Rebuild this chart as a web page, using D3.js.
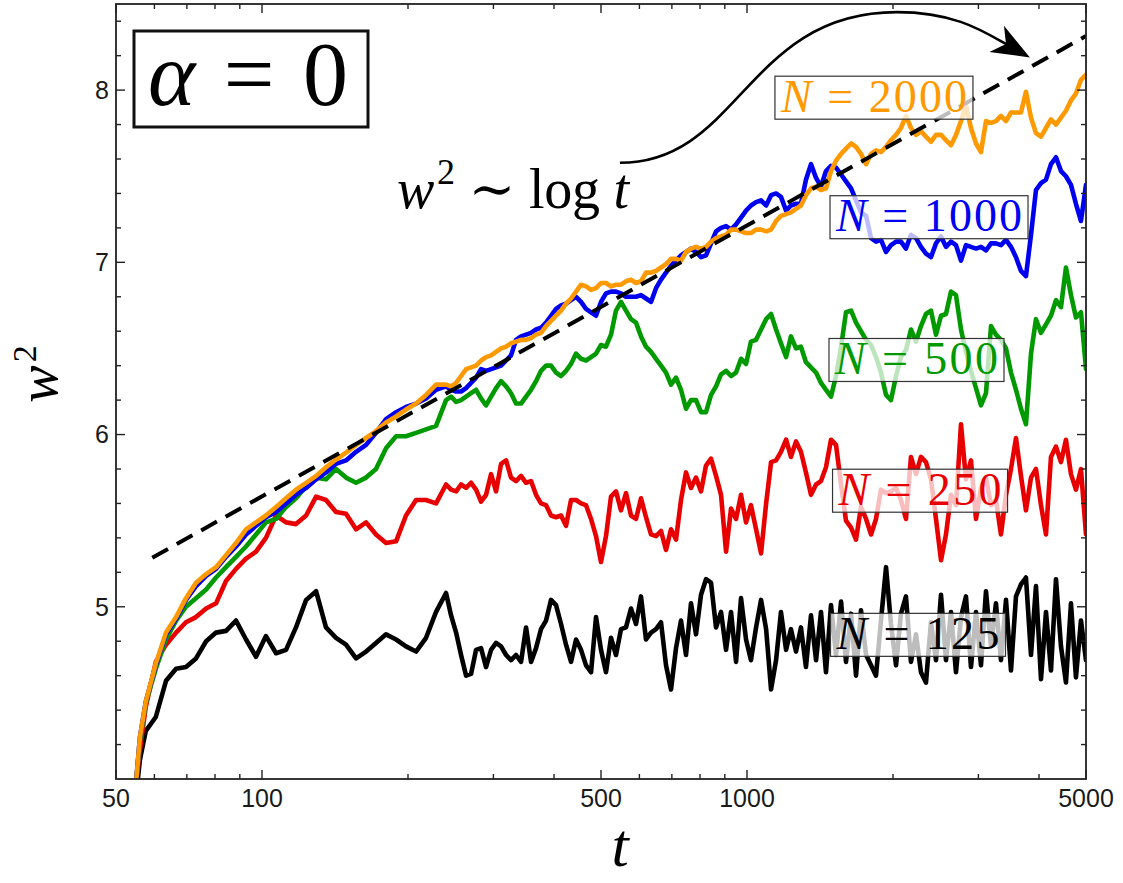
<!DOCTYPE html>
<html>
<head>
<meta charset="utf-8">
<script src="https://cdn.jsdelivr.net/npm/d3@7"></script>
<style>
  body { margin: 0; background: #fff; }
  svg { display: block; }
</style>
</head>
<body>
<script>
// sampling times (log spaced)
const tValues = [
  55.0, 56.0, 57.6, 60.4, 63.4, 66.5, 69.7, 73.1, 76.7, 80.4, 84.3, 88.4, 92.7, 97.2, 101.9, 106.9, 112.1,
  117.5, 123.3, 129.3, 135.5, 142.1, 149.0, 156.3, 163.9, 171.8, 180.2, 189.0, 198.1, 207.8, 217.9, 228.5, 239.6,
  245.4, 251.3, 257.3, 263.5, 269.8, 276.3, 282.9, 289.7, 296.7, 303.8,
  311.1, 318.6, 326.2, 334.0, 342.1, 350.3, 358.7, 367.3, 376.1, 385.2,
  394.4, 403.9, 413.6, 423.5, 433.7, 444.1, 454.8, 465.7, 476.9, 488.3,
  500.0, 512.0, 524.3, 536.9, 549.8, 563.0, 576.5, 590.4, 604.6, 619.1,
  634.0, 649.2, 664.8, 680.8, 697.1, 713.9, 731.0, 748.6, 766.6, 785.0,
  803.9, 823.2, 843.0, 863.3, 884.0, 905.3, 927.0, 949.3, 972.1, 995.5,
  1019, 1044, 1069, 1095, 1121, 1148, 1175, 1204, 1232, 1262,
  1292, 1323, 1355, 1388, 1421, 1455, 1490, 1526, 1563, 1600,
  1639, 1678, 1718, 1760, 1802, 1845, 1889, 1935, 1981, 2029,
  2077, 2127, 2178, 2231, 2284, 2339, 2395, 2453, 2512, 2572,
  2634, 2697, 2762, 2828, 2896, 2966, 3037, 3110, 3185, 3261,
  3339, 3420, 3502, 3586, 3672, 3760, 3851, 3943, 4038, 4135,
  4234, 4336, 4440, 4546, 4656, 4767, 4882, 5000
];

const w2N125 = [
  3.90, 4.11, 4.28, 4.36, 4.57, 4.64, 4.65, 4.70, 4.80, 4.85, 4.86, 4.92, 4.81, 4.71, 4.83, 4.73, 4.75,
  4.88, 5.04, 5.09, 4.88, 4.82, 4.78, 4.70, 4.74, 4.79, 4.84, 4.81, 4.77, 4.74, 4.82, 4.97, 5.08,
  4.95, 4.85, 4.72, 4.60, 4.61, 4.75, 4.76, 4.65, 4.75, 4.79,
  4.77, 4.72, 4.69, 4.72, 4.68, 4.88, 4.68, 4.76, 4.87, 4.92,
  5.04, 5.01, 4.90, 4.78, 4.68, 4.81, 4.75, 4.66, 4.62, 4.94,
  4.75, 4.62, 4.82, 4.72, 4.87, 4.88, 4.99, 4.90, 5.06, 4.81,
  4.85, 4.87, 4.91, 4.66, 4.52, 4.76, 4.92, 4.72, 5.02, 4.84,
  5.07, 5.16, 5.14, 4.88, 4.97, 4.75, 4.97, 4.68, 5.05, 4.81,
  4.69, 4.88, 5.04, 4.87, 4.52, 4.69, 4.97, 4.75, 4.87, 4.74,
  4.88, 4.65, 4.95, 4.69, 4.97, 4.62, 5.01, 4.72, 5.03, 4.68,
  4.96, 4.60, 4.98, 4.72, 4.66, 4.60, 4.92, 5.23, 4.90, 4.66,
  4.96, 5.06, 4.68, 4.84, 4.62, 4.56, 4.91, 4.69, 5.07, 4.69,
  4.97, 4.62, 4.94, 5.06, 4.65, 4.97, 4.66, 5.09, 4.77, 5.02,
  4.69, 5.04, 4.63, 5.06, 5.13, 5.17, 4.72, 5.12, 4.58, 4.97,
  4.63, 5.16, 4.77, 4.56, 5.02, 4.59, 4.92, 4.69
];

const w2N250 = [
  3.97, 4.17, 4.42, 4.68, 4.78, 4.85, 4.91, 4.94, 4.99, 5.02, 5.15, 5.22, 5.28, 5.32, 5.40, 5.53, 5.49,
  5.48, 5.53, 5.64, 5.62, 5.55, 5.54, 5.45, 5.49, 5.42, 5.37, 5.38, 5.53, 5.62, 5.62, 5.60, 5.71,
  5.68, 5.67, 5.71, 5.69, 5.72, 5.68, 5.61, 5.65, 5.77, 5.67,
  5.83, 5.85, 5.75, 5.73, 5.76, 5.72, 5.73, 5.65, 5.60, 5.59,
  5.53, 5.52, 5.53, 5.47, 5.62, 5.62, 5.60, 5.59, 5.51, 5.41,
  5.26, 5.41, 5.64, 5.67, 5.56, 5.66, 5.53, 5.51, 5.63, 5.52,
  5.42, 5.41, 5.44, 5.33, 5.45, 5.39, 5.62, 5.78, 5.69, 5.75,
  5.67, 5.82, 5.86, 5.76, 5.65, 5.32, 5.57, 5.51, 5.65, 5.49,
  5.59, 5.45, 5.31, 5.60, 5.84, 5.85, 5.90, 5.97, 5.87, 5.96,
  5.90, 5.78, 5.65, 5.71, 5.73, 5.81, 5.97, 5.94, 5.71, 5.50,
  5.46, 5.39, 5.58, 5.51, 5.42, 5.51, 5.68, 5.66, 5.67, 5.69,
  5.62, 5.51, 5.87, 5.77, 5.87, 5.84, 5.74, 5.51, 5.27, 5.42,
  5.65, 5.59, 6.06, 5.74, 5.85, 5.51, 5.69, 5.75, 5.59, 5.62,
  5.42, 5.65, 5.80, 5.98, 5.76, 5.56, 5.75, 5.80, 5.59, 5.42,
  5.87, 5.93, 5.84, 5.97, 5.77, 5.68, 5.80, 5.42
];

const w2N500 = [
  3.98, 4.22, 4.44, 4.64, 4.81, 4.92, 5.00, 5.05, 5.10, 5.17, 5.23, 5.29, 5.35, 5.42, 5.49, 5.51, 5.58,
  5.63, 5.70, 5.75, 5.74, 5.80, 5.75, 5.72, 5.75, 5.80, 5.92, 5.99, 5.99, 6.01, 6.03, 6.05, 6.20,
  6.22, 6.19, 6.20, 6.22, 6.24, 6.26, 6.21, 6.17, 6.22, 6.27,
  6.31, 6.28, 6.24, 6.18, 6.18, 6.22, 6.26, 6.31, 6.37, 6.40,
  6.40, 6.36, 6.34, 6.37, 6.41, 6.47, 6.44, 6.43, 6.45, 6.47,
  6.52, 6.51, 6.58, 6.72, 6.77, 6.72, 6.67, 6.65, 6.57, 6.51,
  6.48, 6.44, 6.40, 6.36, 6.29, 6.33, 6.26, 6.15, 6.20, 6.20,
  6.13, 6.13, 6.23, 6.28, 6.35, 6.37, 6.34, 6.36, 6.44, 6.41,
  6.54, 6.55, 6.61, 6.67, 6.70, 6.61, 6.53, 6.45, 6.57, 6.50,
  6.51, 6.42, 6.39, 6.36, 6.30, 6.26, 6.22, 6.34, 6.51, 6.71,
  6.72, 6.65, 6.60, 6.55, 6.52, 6.45, 6.36, 6.23, 6.20, 6.34,
  6.45, 6.49, 6.61, 6.54, 6.63, 6.70, 6.72, 6.58, 6.69, 6.70,
  6.83, 6.81, 6.61, 6.48, 6.37, 6.27, 6.17, 6.24, 6.63, 6.58,
  6.55, 6.50, 6.36, 6.26, 6.15, 6.06, 6.47, 6.67, 6.59, 6.64,
  6.69, 6.78, 6.74, 6.97, 6.81, 6.68, 6.71, 6.38
];

const w2N1000 = [
  3.98, 4.24, 4.45, 4.66, 4.84, 4.93, 5.04, 5.12, 5.18, 5.22, 5.29, 5.35, 5.42, 5.47, 5.52, 5.55, 5.60,
  5.65, 5.69, 5.74, 5.78, 5.83, 5.85, 5.90, 5.94, 6.01, 6.09, 6.13, 6.16, 6.18, 6.21, 6.26, 6.28,
  6.26, 6.25, 6.25, 6.27, 6.30, 6.33, 6.38, 6.37, 6.38, 6.39,
  6.40, 6.43, 6.46, 6.55, 6.57, 6.58, 6.59, 6.61, 6.62, 6.65,
  6.69, 6.73, 6.75, 6.76, 6.78, 6.80, 6.77, 6.73, 6.71, 6.69,
  6.77, 6.82, 6.83, 6.83, 6.82, 6.80, 6.80, 6.80, 6.81, 6.79,
  6.77, 6.85, 6.90, 6.94, 6.98, 7.01, 7.04, 7.06, 7.08, 7.06,
  7.03, 7.04, 7.11, 7.18, 7.20, 7.21, 7.19, 7.22, 7.26, 7.30,
  7.33, 7.35, 7.36, 7.33, 7.39, 7.40, 7.38, 7.30, 7.33, 7.34,
  7.34, 7.48, 7.57, 7.49, 7.44, 7.53, 7.56, 7.55, 7.51, 7.47,
  7.43, 7.36, 7.29, 7.27, 7.14, 7.12, 7.13, 7.06, 7.10, 7.12,
  7.12, 7.08, 7.16, 7.14, 7.09, 7.05, 7.03, 7.11, 7.15, 7.09,
  7.12, 7.10, 7.01, 7.10, 7.09, 7.08, 7.09, 7.07, 7.11, 7.11,
  7.10, 7.13, 7.09, 7.03, 6.95, 6.92, 7.16, 7.42, 7.46, 7.48,
  7.57, 7.61, 7.53, 7.50, 7.45, 7.34, 7.24, 7.45
];

const w2N2000 = [
  3.98, 4.24, 4.45, 4.67, 4.85, 4.94, 5.05, 5.14, 5.19, 5.23, 5.30, 5.37, 5.45, 5.49, 5.53, 5.58, 5.63,
  5.68, 5.72, 5.76, 5.81, 5.855, 5.895, 5.94, 5.98, 6.02, 6.07, 6.105, 6.145, 6.18, 6.23, 6.29, 6.29,
  6.28, 6.30, 6.34, 6.38, 6.39, 6.40, 6.43, 6.45, 6.46, 6.48,
  6.50, 6.51, 6.53, 6.54, 6.55, 6.55, 6.56, 6.58, 6.59, 6.63,
  6.66, 6.69, 6.72, 6.76, 6.79, 6.83, 6.87, 6.86, 6.84, 6.85,
  6.88, 6.88, 6.86, 6.87, 6.87, 6.89, 6.90, 6.88, 6.89, 6.94,
  6.94, 6.95, 6.97, 6.99, 7.02, 7.02, 7.01, 7.06, 7.08, 7.09,
  7.08, 7.09, 7.12, 7.14, 7.15, 7.16, 7.19, 7.19, 7.18, 7.17,
  7.17, 7.19, 7.19, 7.18, 7.19, 7.24, 7.27, 7.28, 7.29, 7.31,
  7.33, 7.39, 7.43, 7.44, 7.42, 7.43, 7.53, 7.59, 7.63, 7.66,
  7.69, 7.67, 7.63, 7.57, 7.63, 7.65, 7.64, 7.67, 7.71, 7.74,
  7.78, 7.85, 7.78, 7.74, 7.76, 7.73, 7.70, 7.74, 7.74, 7.71,
  7.68, 7.74, 7.82, 7.91, 7.78, 7.69, 7.64, 7.82, 7.81, 7.82,
  7.85, 7.82, 7.87, 7.87, 7.87, 7.99, 7.84, 7.75, 7.73, 7.78,
  7.83, 7.80, 7.84, 7.88, 7.94, 7.98, 8.06, 8.09
];

const xMajor = [50, 100, 500, 1000, 5000];
const xMinor = [60, 70, 80, 90, 200, 300, 400, 600, 700, 800, 900, 2000, 3000, 4000];
const yMajor = [5, 6, 7, 8];
const yMinor = [4.2, 4.4, 4.6, 4.8, 5.2, 5.4, 5.6, 5.8, 6.2, 6.4, 6.6, 6.8, 7.2, 7.4, 7.6, 7.8, 8.2, 8.4];

// w^2 ~ log t guide
const fitT = [59.4, 5000];
const fitW2 = [5.285, 8.314];

// annotation arrow: start, peak, tip
const arrowT = [547, 2037, 3831];
const arrowW2 = [7.578, 8.453, 8.19];

const W = 1123, H = 883;
const plotL = 116, plotR = 1086, plotT = 4, plotB = 779;

const x = d3.scaleLog().domain([50, 5000]).range([plotL, plotR]);
const y = d3.scaleLinear().domain([4, 8.5]).range([plotB, plotT]);

const series = [
  { name: '125', values: w2N125, color: '#000000', at: [2252, 4.837] },
  { name: '250', values: w2N250, color: '#e80000', at: [2274, 5.674] },
  { name: '500', values: w2N500, color: '#009a00', at: [2236, 6.433] },
  { name: '1000', values: w2N1000, color: '#0000f0', at: [2373, 7.262] },
  { name: '2000', values: w2N2000, color: '#ff9900', at: [1827, 7.956] }
];

const svg = d3.select(document.body)
  .append('svg')
  .attr('width', W)
  .attr('height', H);

svg.append('rect').attr('width', W).attr('height', H).attr('fill', '#fff');

svg.append('clipPath')
  .attr('id', 'plot')
  .append('rect')
  .attr('x', plotL).attr('y', plotT)
  .attr('width', plotR - plotL).attr('height', plotB - plotT);

const plot = svg.append('g').attr('clip-path', 'url(#plot)');

const line = d3.line()
  .x(d => x(d[0]))
  .y(d => y(d[1]));

series.forEach(s => {
  plot.append('path')
    .datum(tValues.map((t, i) => [t, s.values[i]]))
    .attr('d', line)
    .attr('fill', 'none')
    .attr('stroke', s.color)
    .attr('stroke-width', 4.6)
    .attr('stroke-linejoin', 'round')
    .attr('stroke-linecap', 'round');
});

plot.append('path')
  .datum(fitT.map((t, i) => [t, fitW2[i]]))
  .attr('d', line)
  .attr('fill', 'none')
  .attr('stroke', '#000')
  .attr('stroke-width', 4)
  .attr('stroke-dasharray', '18,10');

// frame + ticks
const axes = svg.append('g').attr('stroke', '#222').attr('stroke-width', 1.4);

function xTicks(vals, len) {
  vals.forEach(v => {
    axes.append('line').attr('x1', x(v)).attr('x2', x(v)).attr('y1', plotB).attr('y2', plotB - len);
    axes.append('line').attr('x1', x(v)).attr('x2', x(v)).attr('y1', plotT).attr('y2', plotT + len);
  });
}
function yTicks(vals, len) {
  vals.forEach(v => {
    axes.append('line').attr('x1', plotL).attr('x2', plotL + len).attr('y1', y(v)).attr('y2', y(v));
    axes.append('line').attr('x1', plotR).attr('x2', plotR - len).attr('y1', y(v)).attr('y2', y(v));
  });
}
xTicks(xMajor, 9);
xTicks(xMinor, 5);
yTicks(yMajor, 9);
yTicks(yMinor, 5);

svg.append('rect')
  .attr('x', plotL).attr('y', plotT)
  .attr('width', plotR - plotL).attr('height', plotB - plotT)
  .attr('fill', 'none')
  .attr('stroke', '#222')
  .attr('stroke-width', 1.8);

const tickFont = "'Liberation Sans', Arial, sans-serif";

svg.append('g')
  .selectAll('text')
  .data(xMajor)
  .enter()
  .append('text')
  .attr('x', d => x(d))
  .attr('y', 807)
  .attr('text-anchor', 'middle')
  .attr('font-family', tickFont)
  .attr('font-size', 25)
  .attr('fill', '#1a1a1a')
  .text(d => d);

svg.append('g')
  .selectAll('text')
  .data(yMajor)
  .enter()
  .append('text')
  .attr('x', plotL - 7)
  .attr('y', d => y(d))
  .attr('dy', '0.35em')
  .attr('text-anchor', 'end')
  .attr('font-family', tickFont)
  .attr('font-size', 25)
  .attr('fill', '#1a1a1a')
  .text(d => d);

const serif = "'Liberation Serif', 'DejaVu Serif', serif";

// axis titles
const yTitle = svg.append('text')
  .attr('transform', 'translate(57,374) rotate(-90)')
  .attr('text-anchor', 'middle')
  .attr('font-family', serif)
  .attr('font-size', 56);
yTitle.append('tspan').attr('font-style', 'italic').text('w');
yTitle.append('tspan').attr('font-size', 34).attr('dy', -21).attr('dx', 3).text('2');

svg.append('text')
  .attr('x', 620)
  .attr('y', 866)
  .attr('text-anchor', 'middle')
  .attr('font-family', serif)
  .attr('font-style', 'italic')
  .attr('font-size', 62)
  .text('t');

// series labels
series.forEach(s => {
  const cx = x(s.at[0]), cy = y(s.at[1]);
  const g = svg.append('g');
  const box = g.append('rect');
  const w = s.name.length > 3 ? 186 : 163;
  const txt = g.append('text')
    .attr('x', cx)
    .attr('y', cy + 14)
    .attr('text-anchor', 'middle')
    .attr('font-family', serif)
    .attr('font-size', 46)
    .attr('fill', s.color)
    .attr('textLength', w)
    .attr('lengthAdjust', 'spacing');
  txt.append('tspan').attr('font-style', 'italic').text('N');
  txt.append('tspan').text(' = ' + s.name);
  box.attr('x', cx - w / 2 - 6)
    .attr('y', cy - 21.5)
    .attr('width', w + 12)
    .attr('height', 43)
    .attr('fill', '#fff')
    .attr('fill-opacity', 0.74)
    .attr('stroke', '#333')
    .attr('stroke-width', 1.2);
});

// alpha box
svg.append('rect')
  .attr('x', 134).attr('y', 31)
  .attr('width', 234).attr('height', 96)
  .attr('fill', '#fff')
  .attr('stroke', '#111')
  .attr('stroke-width', 3);
const alpha = svg.append('text')
  .attr('x', 248)
  .attr('y', 105)
  .attr('text-anchor', 'middle')
  .attr('font-family', serif)
  .attr('font-size', 90)
  .attr('textLength', 200)
  .attr('lengthAdjust', 'spacing');
alpha.append('tspan').attr('font-style', 'italic').text('α');
alpha.append('tspan').text(' = 0');

// w^2 ~ log t annotation
const note = svg.append('text')
  .attr('x', 397)
  .attr('y', 208)
  .attr('font-family', serif)
  .attr('font-size', 56)
  .attr('textLength', 232)
  .attr('lengthAdjust', 'spacing');
note.append('tspan').attr('font-style', 'italic').text('w');
note.append('tspan').attr('font-size', 36).attr('dy', -24).attr('dx', 3).text('2');
note.append('tspan').attr('dy', 24).text(' \u223C log ');
note.append('tspan').attr('font-style', 'italic').text('t');

// smooth S-shaped arrow through start, peak and tip
const [S, P, E] = arrowT.map((t, i) => [x(t), y(arrowW2[i])]);
const tail = [E[0] - 45, E[1] - 25];
const dx = E[0] - tail[0], dy = E[1] - tail[1];
const len = Math.hypot(dx, dy);
const ux = dx / len, uy = dy / len, nx = -uy, ny = ux;
const endLine = [E[0] - 22 * ux, E[1] - 22 * uy];

svg.append('path')
  .attr('d', `M${S[0]},${S[1]} C${S[0] + 120},${S[1]} ${P[0] - 150},${P[1]} ${P[0]},${P[1]}` +
    ` C${P[0] + 60},${P[1]} ${tail[0]},${tail[1]} ${endLine[0]},${endLine[1]}`)
  .attr('fill', 'none')
  .attr('stroke', '#000')
  .attr('stroke-width', 2.6);

const L = 38, Wd = 15;
const head = [
  [E[0], E[1]],
  [E[0] - L * ux + Wd * nx, E[1] - L * uy + Wd * ny],
  [E[0] - 0.72 * L * ux, E[1] - 0.72 * L * uy],
  [E[0] - L * ux - Wd * nx, E[1] - L * uy - Wd * ny]
];
svg.append('path')
  .attr('d', 'M' + head.map(p => p.join(',')).join('L') + 'Z')
  .attr('fill', '#000');
</script>
</body>
</html>
